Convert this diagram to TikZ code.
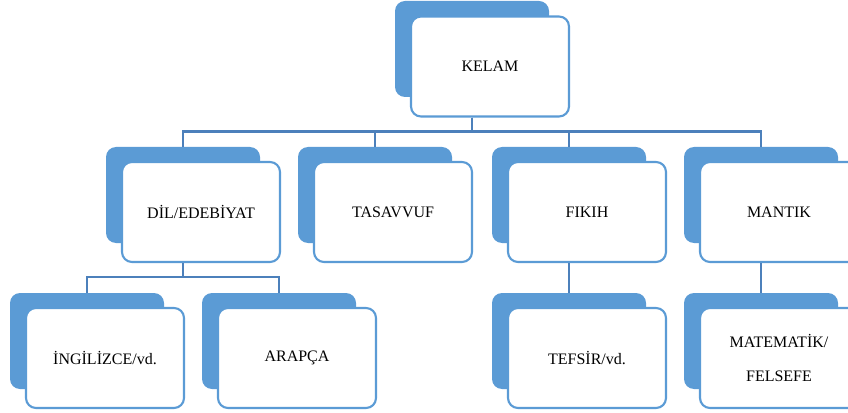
\documentclass[tikz,border=0pt]{standalone}
\usepackage{fontspec}
\setmainfont{Liberation Serif}
\definecolor{boxblue}{HTML}{5B9BD5}
\definecolor{linkblue}{HTML}{4C80BB}
\tikzset{
  backbox/.style={rectangle, fill=boxblue, draw=none, rounded corners=7.5pt,
    minimum width=115.5pt, minimum height=72pt, inner sep=0pt},
  frontbox/.style={rectangle, fill=white, draw=boxblue, line width=1.6pt, rounded corners=7.5pt,
    minimum width=118.5pt, minimum height=75pt, inner sep=2pt, align=center,
    font=\fontsize{12}{14}\selectfont, text=black},
  conn/.style={draw=linkblue, line width=1.9pt}
}
\begin{document}
\begin{tikzpicture}[x=0.75pt, y=-0.75pt]
\useasboundingbox (0,0) rectangle (848,413);
\clip (0,0) rectangle (848,413);
% back boxes
\node[backbox] (kelamB) at (472,49) {};
\node[backbox] (dilB) at (183,195) {};
\node[backbox] (tasB) at (375,195) {};
\node[backbox] (fikB) at (569,195) {};
\node[backbox] (manB) at (761,195) {};
\node[backbox] (ingB) at (87,341) {};
\node[backbox] (araB) at (279,341) {};
\node[backbox] (tefB) at (569,341) {};
\node[backbox] (matB) at (761,341) {};
% front boxes
\node[frontbox] (kelam) at (490,66.5) {KELAM};
\node[frontbox] (dil) at (201,212) {DİL/EDEBİYAT};
\node[frontbox] (tas) at (393,212) {TASAVVUF};
\node[frontbox] (fik) at (587,212) {FIKIH};
\node[frontbox] (man) at (779,212) {MANTIK};
\node[frontbox] (ing) at (105,358) {İNGİLİZCE/vd.};
\node[frontbox] (ara) at (297,358) {ARAPÇA};
\node[frontbox] (tef) at (587,358) {TEFSİR/vd.};
\node[frontbox] (mat) at (779,358) {MATEMATİK/\\[12pt]FELSEFE};
% connectors
\draw[conn] (kelamB.south |- kelam.south) -- ++(0,14) -| (dilB.north);
\draw[conn] (kelamB.south |- kelam.south) -- ++(0,14) -| (tasB.north);
\draw[conn] (kelamB.south |- kelam.south) -- ++(0,14) -| (fikB.north);
\draw[conn] (kelamB.south |- kelam.south) -- ++(0,14) -| (manB.north);
\draw[conn] (dilB.south |- dil.south) -- ++(0,14) -| (ingB.north);
\draw[conn] (dilB.south |- dil.south) -- ++(0,14) -| (araB.north);
\draw[conn] (fikB.south |- fik.south) -- (tefB.north);
\draw[conn] (manB.south |- man.south) -- (matB.north);
\end{tikzpicture}
\end{document}
